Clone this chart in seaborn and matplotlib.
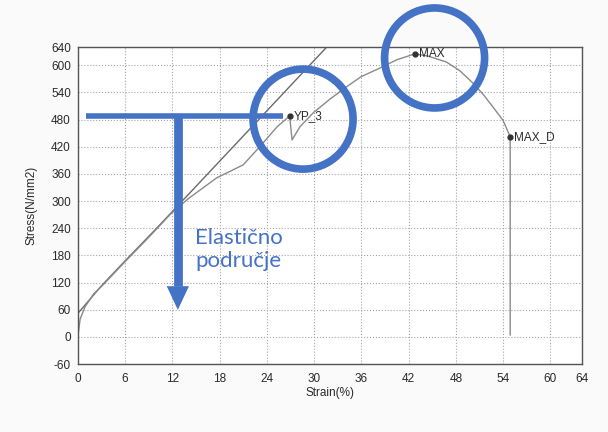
import matplotlib
matplotlib.use('Agg')
import matplotlib.pyplot as plt
import matplotlib.patches as mpatches
import pandas as pd
import seaborn as sns

# measured tensile curve
strain = [0, 0.3, 0.9, 2, 3.2, 6.2, 9, 11.7, 14, 17.6, 21, 23.1, 25.3, 26.9,
          27.2, 28.2, 29.9, 32, 34.1, 36, 38.4, 40.5, 42.8, 44.5, 46.8, 48.5,
          50.2, 51.5, 52.7, 54, 54.9, 54.9]
stress = [0, 40, 66, 95, 115, 170, 220, 270, 305, 351, 380, 420, 464, 488,
          435, 464, 495, 525, 552, 575, 594, 612, 625, 620, 607, 588,
          560, 535, 508, 478, 442, 4]

# offset (modulus) line
line_strain = [0, 3, 6, 10, 20, 31.6]
line_stress = [52, 113, 168, 240, 425, 640]

# marked points
pt_names = ['YP_3', 'MAX', 'MAX_D']
pt_strain = [26.9, 42.8, 54.9]
pt_stress = [488, 625, 442]

x_ticks = [0, 6, 12, 18, 24, 30, 36, 42, 48, 54, 60, 64]
y_ticks = [-60, 0, 60, 120, 180, 240, 300, 360, 420, 480, 540, 600, 640]

blue = '#4472C4'
txt = '#2a2a2a'

sns.set_style('white')
plt.rcParams['font.family'] = ['Liberation Sans', 'DejaVu Sans']
plt.rcParams['axes.unicode_minus'] = False

fig = plt.figure(figsize=(6.08, 4.32), dpi=100, facecolor='#fafafa')
ax = fig.add_axes([0.128, 0.157, 0.829, 0.734])

curve = pd.DataFrame({'Strain': strain, 'Stress': stress})
line = pd.DataFrame({'Strain': line_strain, 'Stress': line_stress})
sns.lineplot(data=line, x='Strain', y='Stress', sort=False, estimator=None,
             ax=ax, color='#6a6a6a', lw=1.0)
sns.lineplot(data=curve, x='Strain', y='Stress', sort=False, estimator=None,
             ax=ax, color='#8a8a8a', lw=1.0)
ax.plot(pt_strain, pt_stress, 'o', color='#333333', ms=3.5)
for name, sx, sy in zip(pt_names, pt_strain, pt_stress):
    ax.annotate(name, (sx, sy), xytext=(3, 0), textcoords='offset points',
                va='center', fontsize=8.5, color=txt)

ax.set_xlim(0, 64)
ax.set_ylim(-60, 640)
ax.set_xticks(x_ticks)
ax.set_yticks(y_ticks)
ax.tick_params(labelsize=8.5, colors=txt, length=0)
ax.tick_params(axis='y', pad=5)
ax.tick_params(axis='x', pad=6)
ax.grid(True, ls=':', color='#a5a5a5', lw=0.8)
for s in ax.spines.values():
    s.set_color('#555555')
    s.set_linewidth(1.0)
ax.set_xlabel('Strain(%)', fontsize=8.5, color=txt, labelpad=2)
ax.set_ylabel('Stress(N/mm2)', fontsize=8.5, color=txt, labelpad=10)

# blue overlay: T marker, arrow, circles, text
ax.plot([1.0, 26.0], [488, 488], color=blue, lw=4, solid_capstyle='butt',
        clip_on=False, zorder=6)
ax.plot([12.7, 12.7], [488, 112], color=blue, lw=6.3, solid_capstyle='butt',
        zorder=6)
ax.annotate('', xy=(12.7, 60), xytext=(12.7, 160),
            arrowprops=dict(arrowstyle='-|>,head_width=0.4,head_length=0.85',
                            lw=0, color=blue, shrinkA=0, shrinkB=0,
                            mutation_scale=20), zorder=6)
ax.text(14.9, 240, 'Elastično\npodručje', color=blue, fontsize=16,
        family=['Lato', 'DejaVu Sans'], va='top', ha='left', linespacing=1.2)

for cx, cy in [(28.6, 481), (45.3, 616)]:
    px, py = ax.transData.transform((cx, cy))
    fx, fy = fig.transFigure.inverted().transform((px, py))
    fig.patches.append(mpatches.Ellipse((fx, fy), 100 / 608, 100 / 432,
                                        transform=fig.transFigure, fill=False,
                                        ec=blue, lw=5.5, zorder=5))

fig.savefig('out.png', dpi=100, facecolor=fig.get_facecolor())
